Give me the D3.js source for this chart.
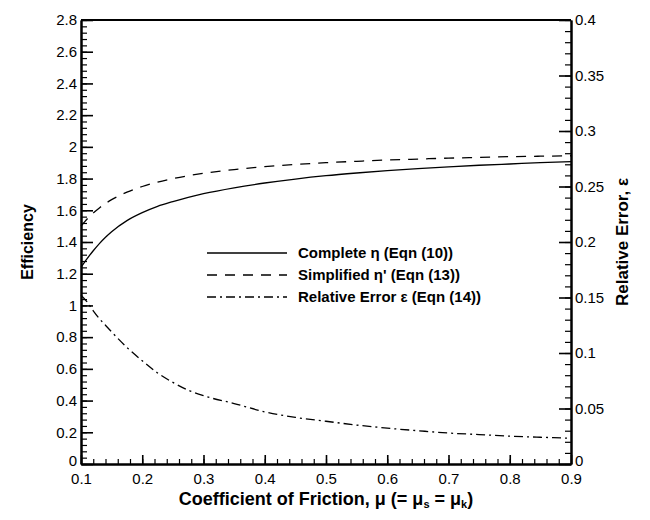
<!DOCTYPE html>
<html><head><meta charset="utf-8">
<script src="https://cdn.jsdelivr.net/npm/d3@7"></script>
<style>
body{margin:0;background:#fff;}
svg{display:block;font-family:"Liberation Sans",Arial,Helvetica,sans-serif;}
</style></head>
<body><svg id="c" width="650" height="520"></svg>
<script>
const mu = [0.1,0.11,0.12,0.13,0.14,0.15,0.175,0.2,0.225,0.25,0.275,0.3,0.35,0.4,0.45,0.5,0.55,0.6,0.65,0.7,0.75,0.8,0.85,0.9];
const complete = [1.24,1.295,1.345,1.39,1.43,1.465,1.535,1.585,1.625,1.655,1.682,1.705,1.742,1.772,1.797,1.818,1.835,1.85,1.863,1.874,1.884,1.892,1.90,1.907];
const simplified = [1.50,1.545,1.583,1.615,1.643,1.667,1.714,1.75,1.778,1.80,1.818,1.833,1.857,1.875,1.889,1.90,1.909,1.917,1.923,1.929,1.933,1.938,1.941,1.944];
const relError = [0.152,0.146,0.138,0.131,0.125,0.119,0.105,0.093,0.082,0.0735,0.0665,0.0615,0.0545,0.047,0.042,0.0385,0.0351,0.0323,0.030,0.0279,0.0265,0.0251,0.0241,0.0232];
const xTicks = [0.1,0.2,0.3,0.4,0.5,0.6,0.7,0.8,0.9];
const yLeftTicks = [0,0.2,0.4,0.6,0.8,1,1.2,1.4,1.6,1.8,2,2.2,2.4,2.6,2.8];
const yRightTicks = [0,0.05,0.1,0.15,0.2,0.25,0.3,0.35,0.4];
const legendLabels = ["Complete \u03B7 (Eqn (10))","Simplified \u03B7' (Eqn (13))","Relative Error \u03B5 (Eqn (14))"];

const L=81,R=571,T=20,B=464;
const svg=d3.select("#c");
const x=d3.scaleLinear().domain([0.1,0.9]).range([L,R]);
const yL=d3.scaleLinear().domain([0,2.8]).range([B,T]);
const yR=d3.scaleLinear().domain([0,0.4]).range([B,T]);

function fmt(d){return d3.format("~g")(+d.toFixed(3));}

const xMinor=d3.range(0,41).map(i=>0.1+i*0.02).filter(v=>v<=0.9001);
const yLMinor=d3.range(0,71).map(i=>i*0.04);
const yRMinor=d3.range(0,41).map(i=>i*0.01);

const axB=d3.axisBottom(x).tickValues(xTicks).tickFormat(fmt).tickSizeInner(-9).tickSizeOuter(0).tickPadding(15);
const axBm=d3.axisBottom(x).tickValues(xMinor).tickFormat("").tickSizeInner(-5).tickSizeOuter(0);
const axL=d3.axisLeft(yL).tickValues(yLeftTicks).tickFormat(fmt).tickSizeInner(-12).tickSizeOuter(0).tickPadding(4);
const axLm=d3.axisLeft(yL).tickValues(yLMinor).tickFormat("").tickSizeInner(-6).tickSizeOuter(0);
const axR=d3.axisRight(yR).tickValues(yRightTicks).tickFormat(fmt).tickSizeInner(-12).tickSizeOuter(0).tickPadding(4);
const axRm=d3.axisRight(yR).tickValues(yRMinor).tickFormat("").tickSizeInner(-6).tickSizeOuter(0);

function style(sel){
  sel.selectAll("path").attr("stroke","#000").attr("stroke-width",2);
  sel.selectAll("line").attr("stroke","#000").attr("stroke-width",1.6);
  sel.selectAll("text").attr("fill","#000").style("font-size","15px").style("font-family","'Liberation Sans',Arial,sans-serif");
}
const gBm=svg.append("g").attr("transform",`translate(0,${B})`).call(axBm); style(gBm); gBm.selectAll("line").attr("stroke-width",1.2);
const gLm=svg.append("g").attr("transform",`translate(${L},0)`).call(axLm); style(gLm); gLm.selectAll("line").attr("stroke-width",1.2);
const gRm=svg.append("g").attr("transform",`translate(${R},0)`).call(axRm); style(gRm); gRm.selectAll("line").attr("stroke-width",1.2);
const gB=svg.append("g").attr("transform",`translate(0,${B})`).call(axB); style(gB);
gB.selectAll("text").attr("dy","0.3em");
const gL=svg.append("g").attr("transform",`translate(${L},0)`).call(axL); style(gL);
const gR=svg.append("g").attr("transform",`translate(${R},0)`).call(axR); style(gR);
gL.selectAll(".tick text").filter(d=>d===0).attr("dy","0.1em");
gR.selectAll(".tick text").filter(d=>d===0).attr("dy","0.1em");
svg.append("line").attr("x1",L).attr("x2",R).attr("y1",T).attr("y2",T).attr("stroke","#000").attr("stroke-width",2);

const data=mu.map((m,i)=>({m,c:complete[i],s:simplified[i],e:relError[i]}));
const lineC=d3.line().x(d=>x(d.m)).y(d=>yL(d.c)).curve(d3.curveMonotoneX);
const lineS=d3.line().x(d=>x(d.m)).y(d=>yL(d.s)).curve(d3.curveMonotoneX);
const lineE=d3.line().x(d=>x(d.m)).y(d=>yR(d.e)).curve(d3.curveMonotoneX);
const dashes=[null,"10,8","9,4,2,4"];
svg.append("path").datum(data).attr("d",lineC).attr("fill","none").attr("stroke","#000").attr("stroke-width",1.3);
svg.append("path").datum(data).attr("d",lineS).attr("fill","none").attr("stroke","#000").attr("stroke-width",1.3).attr("stroke-dasharray",dashes[1]);
svg.append("path").datum(data).attr("d",lineE).attr("fill","none").attr("stroke","#000").attr("stroke-width",1.3).attr("stroke-dasharray",dashes[2]);

const lg=svg.append("g");
legendLabels.forEach((t,i)=>{
  const yy=253+i*22;
  lg.append("line").attr("x1",207).attr("x2",287).attr("y1",yy).attr("y2",yy).attr("stroke","#000").attr("stroke-width",1.3).attr("stroke-dasharray",dashes[i]);
  lg.append("text").attr("x",298).attr("y",yy+5).text(t).style("font-size","15px").style("font-weight","bold");
});

svg.append("text").attr("transform",`translate(33,${(T+B)/2}) rotate(-90)`).attr("text-anchor","middle")
  .style("font-size","16px").style("font-weight","bold").text("Efficiency");
svg.append("text").attr("transform",`translate(628,${(T+B)/2}) rotate(-90)`).attr("text-anchor","middle")
  .style("font-size","17px").style("font-weight","bold").text("Relative Error, \u03B5");
const xt=svg.append("text").attr("x",(L+R)/2).attr("y",505).attr("text-anchor","middle").style("font-size","18px").style("font-weight","bold");
xt.append("tspan").text("Coefficient of Friction, \u03BC (= \u03BC");
xt.append("tspan").attr("baseline-shift","-25%").style("font-size","11px").text("s");
xt.append("tspan").text(" = \u03BC");
xt.append("tspan").attr("baseline-shift","-25%").style("font-size","11px").text("k");
xt.append("tspan").text(")");
</script></body></html>
